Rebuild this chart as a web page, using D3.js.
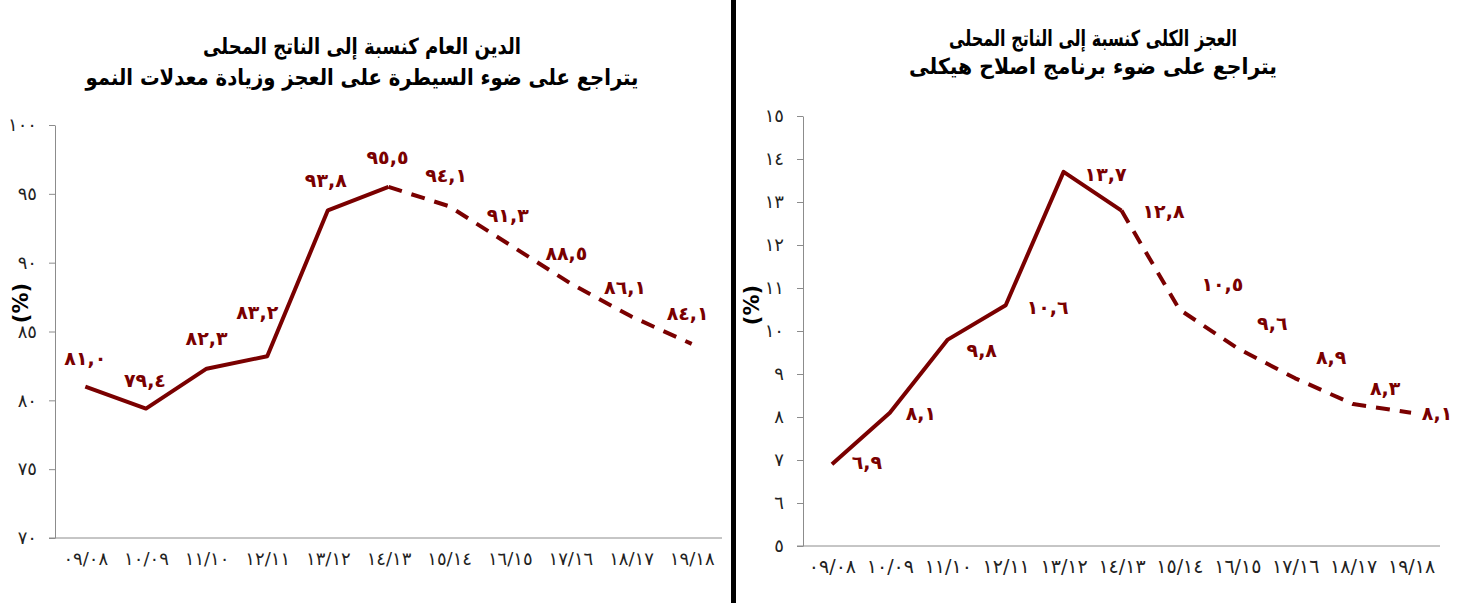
<!DOCTYPE html>
<html><head><meta charset="utf-8">
<script src="https://cdn.jsdelivr.net/npm/d3@7"></script>
<style>
html,body{margin:0;padding:0;background:#fff;}
svg{display:block;}
text{font-family:"DejaVu Sans",sans-serif;}
</style></head>
<body>
<svg id="chart" width="1465" height="603"></svg>
<script>
// ---------- data ----------
const categories = ["٠٩/٠٨","١٠/٠٩","١١/١٠","١٢/١١","١٣/١٢","١٤/١٣","١٥/١٤","١٦/١٥","١٧/١٦","١٨/١٧","١٩/١٨"];
const debtValues = [81.0, 79.4, 82.3, 83.2, 93.8, 95.5, 94.1, 91.3, 88.5, 86.1, 84.1];
const deficitValues = [6.9, 8.1, 9.8, 10.6, 13.7, 12.8, 10.5, 9.6, 8.9, 8.3, 8.1];
const debtTicks = [70, 75, 80, 85, 90, 95, 100];
const deficitTicks = [5, 6, 7, 8, 9, 10, 11, 12, 13, 14, 15];
const debtTitle = ["الدين العام كنسبة إلى الناتج المحلى", "يتراجع على ضوء السيطرة على العجز وزيادة معدلات النمو"];
const deficitTitle = ["العجز الكلى كنسبة إلى الناتج المحلى", "يتراجع على ضوء برنامج اصلاح هيكلى"];
const unitLabel = "(%)";
const lastActualIndex = 5; // solid up to here, dashed (projection) after

// ---------- helpers ----------
const arDigits = "٠١٢٣٤٥٦٧٨٩";
const toAr = s => String(s).replace(/[0-9]/g, d => arDigits[+d]);
const fmtVal = v => toAr(v.toFixed(1).replace(".", ","));

const RED = "#7a0000";
const AXIS = "#8c8c8c";
const svg = d3.select("#chart");

// divider
svg.append("rect").attr("x", 731).attr("y", 0).attr("width", 5).attr("height", 603).attr("fill", "#000");

function drawPanel(o) {
  const g = svg.append("g");
  const x = d3.scalePoint().domain(categories).range([o.x0, o.x1]).padding(0.5);
  const y = d3.scaleLinear().domain(o.domain).range([o.y1, o.y0]);

  // title
  o.title.forEach((t, i) => {
    g.append("text").attr("x", o.titleX).attr("y", o.titleY[i])
      .attr("text-anchor", "middle").attr("font-weight", "bold")
      .attr("font-size", o.titleSize).attr("fill", "#000").attr("direction", "rtl")
      .attr("textLength", o.titleLen[i]).attr("lengthAdjust", "spacingAndGlyphs").text(t);
  });

  // y axis
  const ya = g.append("g").attr("transform", `translate(${o.x0},0)`)
    .call(d3.axisLeft(y).tickValues(o.ticks).tickFormat(toAr).tickSize(6).tickSizeOuter(0).tickPadding(o.tickPad));
  ya.select(".domain").attr("stroke", AXIS);
  ya.selectAll(".tick line").attr("stroke", AXIS);
  ya.selectAll(".tick text").attr("font-size", o.tickSize).attr("fill", "#222")
    .attr("letter-spacing", 1).attr("font-family", "DejaVu Sans");

  // x axis
  const xa = g.append("g").attr("transform", `translate(0,${o.y1})`)
    .call(d3.axisBottom(x).tickSize(0).tickSizeOuter(0).tickPadding(o.xPad));
  xa.select(".domain").attr("stroke", AXIS).attr("d", `M${o.x0 - 6},0H${o.x1}`);
  xa.selectAll(".tick text").attr("font-size", o.xSize).attr("fill", "#222")
    .attr("letter-spacing", o.xSpacing).attr("font-family", "DejaVu Sans");

  // unit label
  g.append("text").attr("transform", `translate(${o.unitX},${o.unitY}) rotate(-90)`)
    .attr("text-anchor", "middle").attr("dominant-baseline", "central")
    .attr("font-weight", "bold").attr("font-size", 21)
    .attr("font-family", "Liberation Sans").attr("fill", "#000").text(unitLabel);

  const pts = o.values.map((v, i) => [x(categories[i]), y(v)]);
  const line = d3.line();
  g.append("path").attr("d", line(pts.slice(0, lastActualIndex + 1)))
    .attr("fill", "none").attr("stroke", RED).attr("stroke-width", 4).attr("stroke-linejoin", "round");
  g.append("path").attr("d", line(pts.slice(lastActualIndex)))
    .attr("fill", "none").attr("stroke", RED).attr("stroke-width", 4)
    .attr("stroke-dasharray", "14,10").attr("stroke-linejoin", "round");

  // data labels
  g.selectAll(".dl").data(o.values).enter().append("text")
    .attr("x", (d, i) => pts[i][0] + o.labelDx[i])
    .attr("y", (d, i) => pts[i][1] + o.labelDy[i])
    .attr("text-anchor", "middle").attr("dominant-baseline", "central")
    .attr("font-size", o.labelSize).attr("letter-spacing", 3).attr("font-weight", "bold")
    .attr("fill", RED).text(d => fmtVal(d));
}

drawPanel({
  x0: 55, x1: 722, y0: 125, y1: 538, domain: [70, 100],
  values: debtValues, ticks: debtTicks, title: debtTitle,
  titleX: 362, titleY: [54, 85], titleLen: [318, 553], titleSize: 22,
  tickPad: 12, tickSize: 18, xPad: 14, xSize: 18, xSpacing: 1,
  unitX: 21, unitY: 303, labelSize: 19,
  labelDx: [0, -1, 0, -10, -2, -1, -3, -2, -4, -6, -4],
  labelDy: [-29, -29, -31, -44, -30, -30, -31, -30, -30, -29, -31]
});

drawPanel({
  x0: 803, x1: 1440, y0: 116, y1: 546, domain: [5, 15],
  values: deficitValues, ticks: deficitTicks, title: deficitTitle,
  titleX: 1093, titleY: [46, 74], titleLen: [288, 368], titleSize: 22,
  tickPad: 13, tickSize: 18, xPad: 14, xSize: 19, xSpacing: 2,
  unitX: 752, unitY: 305, labelSize: 19,
  labelDx: [35, 31, 34, 42, 42, 42, 43, 35, 36, 32, 26],
  labelDy: [-2, 0, 10, 2, 2, 0, -26, -25, -21, -16, 0]
});
</script>
</body></html>
